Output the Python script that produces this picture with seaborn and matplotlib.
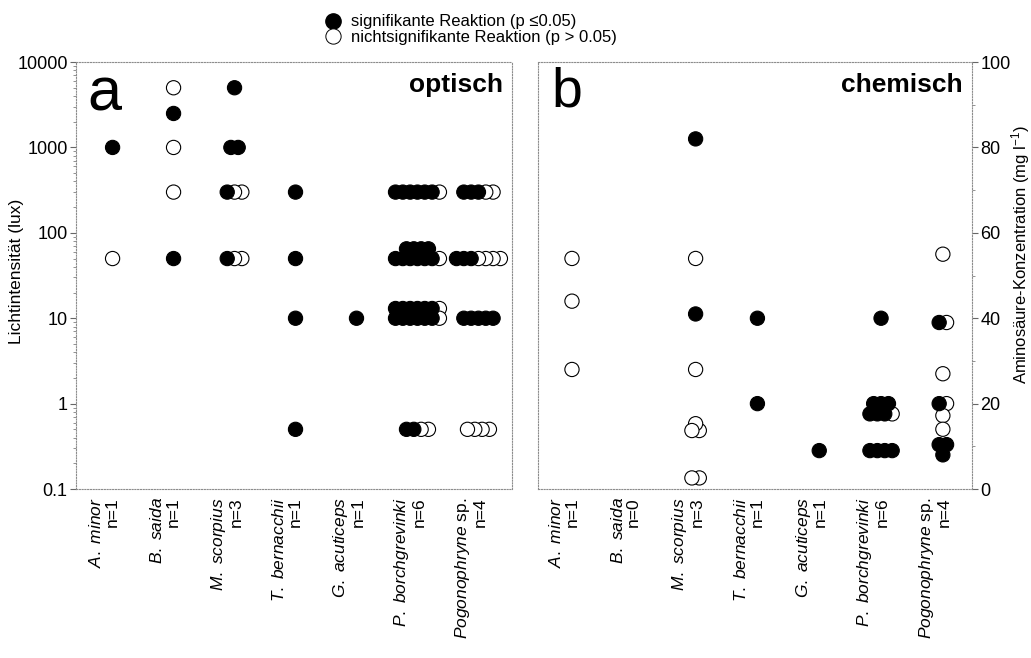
import matplotlib
matplotlib.use("Agg")
import matplotlib.pyplot as plt
import matplotlib.transforms as mtransforms
from matplotlib.lines import Line2D
from matplotlib.ticker import LogLocator, MultipleLocator, NullFormatter
import seaborn as sns
import pandas as pd

# Arten und Anzahl Tiere
arten = ["A.\\ minor", "B.\\ saida", "M.\\ scorpius", "T.\\ bernacchii",
         "G.\\ acuticeps", "P.\\ borchgrevinki", "Pogonophryne"]
n_optisch = [1, 1, 3, 1, 1, 6, 4]
n_chemisch = [1, 0, 3, 1, 1, 6, 4]

# a: optische Reize -> je Gruppe: Art (Index), Lichtintensität (lux),
# Anzahl signifikant, Anzahl nicht signifikant
opt_art = [0, 0,
           1, 1, 1, 1, 1,
           2, 2, 2, 2,
           3, 3, 3, 3,
           4,
           5, 5, 5, 5, 5, 5,
           6, 6, 6, 6]
opt_lux = [1000, 50,
           5000, 2500, 1000, 300, 50,
           5000, 1000, 300, 50,
           300, 50, 10, 0.5,
           10,
           300, 65, 50, 13, 10, 0.5,
           300, 50, 10, 0.5]
opt_sig = [1, 0,
           0, 1, 0, 0, 1,
           1, 2, 1, 1,
           1, 1, 1, 1,
           1,
           6, 4, 6, 6, 6, 2,
           3, 3, 5, 0]
opt_ns = [0, 1,
          1, 0, 1, 1, 0,
          0, 0, 2, 2,
          0, 0, 0, 0,
          0,
          1, 0, 1, 1, 1, 2,
          2, 4, 0, 4]

# b: chemische Reize -> Aminosäure-Konzentration (mg l-1)
chem_art = [0, 0, 0,
            2, 2, 2, 2, 2, 2, 2,
            3, 3,
            4,
            5, 5, 5, 5,
            6, 6, 6, 6, 6, 6, 6, 6]
chem_konz = [54, 44, 28,
             82, 54, 41, 28, 15.3, 13.7, 2.6,
             40, 20,
             9,
             40, 20, 17.6, 9,
             55, 39, 27, 20, 17.2, 14, 10.4, 8]
chem_sig = [0, 0, 0,
            1, 0, 1, 0, 0, 0, 0,
            1, 1,
            1,
            1, 3, 3, 4,
            0, 1, 0, 1, 0, 0, 2, 1]
chem_ns = [1, 1, 1,
           0, 1, 0, 1, 1, 2, 2,
           0, 0,
           0,
           0, 0, 1, 0,
           1, 1, 1, 1, 1, 1, 0, 0]

lux_ticks = [0.1, 1, 10, 100, 1000, 10000]
lux_labels = ["0.1", "1", "10", "100", "1000", "10000"]
konz_ticks = [0, 20, 40, 60, 80, 100]

sns.set_theme(style="white")
plt.rcParams["font.family"] = ["Liberation Sans", "DejaVu Sans"]
plt.rcParams["mathtext.fontset"] = "custom"
plt.rcParams["mathtext.rm"] = "Liberation Sans"
plt.rcParams["mathtext.it"] = "Liberation Sans:italic"
for key in ["text.color", "axes.labelcolor", "xtick.color", "ytick.color"]:
    plt.rcParams[key] = "black"


def punkte(art, wert, sig, ns, dx=0.12):
    # Punkte einer Gruppe nebeneinander legen (erst signifikant, dann nicht)
    zeilen = []
    for a, w, s, k in zip(art, wert, sig, ns):
        m = s + k
        for i in range(m):
            zeilen.append({"x": a + (i - (m - 1) / 2) * dx, "wert": w,
                           "Reaktion": "sig" if i < s else "ns"})
    df = pd.DataFrame(zeilen)
    # rechte Punkte zuerst zeichnen, damit die linken oben liegen
    return df.sort_values("x", ascending=False, kind="stable")


def tick_labels(n_liste):
    out = []
    for name, n in zip(arten, n_liste):
        if name == "Pogonophryne":
            out.append(r"$\mathit{Pogonophryne}$ sp." + f"\nn={n}")
        else:
            out.append(r"$\mathit{" + name + "}$" + f"\nn={n}")
    return out


def rahmen(ax):
    for sp in ax.spines.values():
        sp.set_visible(True)
        sp.set_color("0.55")
        sp.set_linewidth(0.8)
        sp.set_linestyle((0, (1, 1.5)))


fig = plt.figure(figsize=(10.31, 6.58), dpi=100)
ax_a = fig.add_axes([0.0737, 0.2568, 0.4229, 0.6489])
ax_b = fig.add_axes([0.5218, 0.2568, 0.4209, 0.6489])

farben = {"sig": "black", "ns": "white"}

df_a = punkte(opt_art, opt_lux, opt_sig, opt_ns)
sns.scatterplot(data=df_a, x="x", y="wert", hue="Reaktion", palette=farben,
                edgecolor="black", linewidth=0.8, s=105, legend=False, ax=ax_a)
df_b = punkte(chem_art, chem_konz, chem_sig, chem_ns)
sns.scatterplot(data=df_b, x="x", y="wert", hue="Reaktion", palette=farben,
                edgecolor="black", linewidth=0.8, s=105, legend=False, ax=ax_b)

# Panel a
ax_a.set_yscale("log")
ax_a.set_ylim(0.1, 10000)
ax_a.set_xlim(-0.6, 6.55)
ax_a.set_yticks(lux_ticks, labels=lux_labels)
ax_a.yaxis.set_minor_locator(LogLocator(base=10, subs=range(2, 10)))
ax_a.yaxis.set_minor_formatter(NullFormatter())
ax_a.tick_params(axis="y", which="major", left=True, length=4, width=0.8,
                 color="0.4", labelsize=13, pad=2)
ax_a.tick_params(axis="y", which="minor", left=True, length=2, width=0.6, color="0.5")
ax_a.set_ylabel("Lichtintensität (lux)", fontsize=12.5)
ax_a.yaxis.set_label_coords(-0.12, 0.51)

# Panel b
ax_b.set_ylim(0, 100)
ax_b.set_xlim(-0.55, 6.47)
ax_b.yaxis.tick_right()
ax_b.yaxis.set_label_position("right")
ax_b.set_yticks(konz_ticks)
ax_b.yaxis.set_minor_locator(MultipleLocator(10))
ax_b.tick_params(axis="y", which="major", right=True, left=False, length=4, width=0.8,
                 color="0.4", labelsize=13, pad=2)
ax_b.tick_params(axis="y", which="minor", right=True, left=False, length=2, width=0.6,
                 color="0.5")
ax_b.set_ylabel("Aminosäure-Konzentration (mg l$^{-1}$)", fontsize=12)
ax_b.yaxis.set_label_coords(1.085, 0.55)

for ax, n_liste in [(ax_a, n_optisch), (ax_b, n_chemisch)]:
    ax.set_xlabel("")
    ax.set_xticks(range(len(arten)))
    ax.set_xticklabels(tick_labels(n_liste), rotation=90, ha="center", va="top",
                       multialignment="right", fontsize=12.5, linespacing=1.05)
    ax.tick_params(axis="x", length=0, pad=6)
    verschiebung = mtransforms.ScaledTranslation(-6 / 72, 0, fig.dpi_scale_trans)
    for lab in ax.get_xticklabels():
        lab.set_transform(lab.get_transform() + verschiebung)
    ax.grid(False)
    rahmen(ax)

ax_a.text(0.025, 0.99, "a", transform=ax_a.transAxes, ha="left", va="top", fontsize=44)
ax_a.text(0.98, 0.975, "optisch", transform=ax_a.transAxes, ha="right", va="top",
          fontsize=19, fontweight="bold")
ax_b.text(0.03, 0.99, "b", transform=ax_b.transAxes, ha="left", va="top", fontsize=40)
ax_b.text(0.978, 0.975, "chemisch", transform=ax_b.transAxes, ha="right", va="top",
          fontsize=19, fontweight="bold")

griffe = [
    Line2D([], [], marker="o", linestyle="none", markersize=11,
           markerfacecolor="black", markeredgecolor="black"),
    Line2D([], [], marker="o", linestyle="none", markersize=11,
           markerfacecolor="white", markeredgecolor="black", markeredgewidth=0.7),
]
fig.legend(griffe, ["signifikante Reaktion (p ≤0.05)",
                    "nichtsignifikante Reaktion (p > 0.05)"],
           loc="upper left", bbox_to_anchor=(0.315, 0.978), frameon=False,
           fontsize=12, handlelength=1.0, handletextpad=0.6,
           labelspacing=0.05, borderpad=0, borderaxespad=0)

fig.savefig("out.png", dpi=100, facecolor="white")
